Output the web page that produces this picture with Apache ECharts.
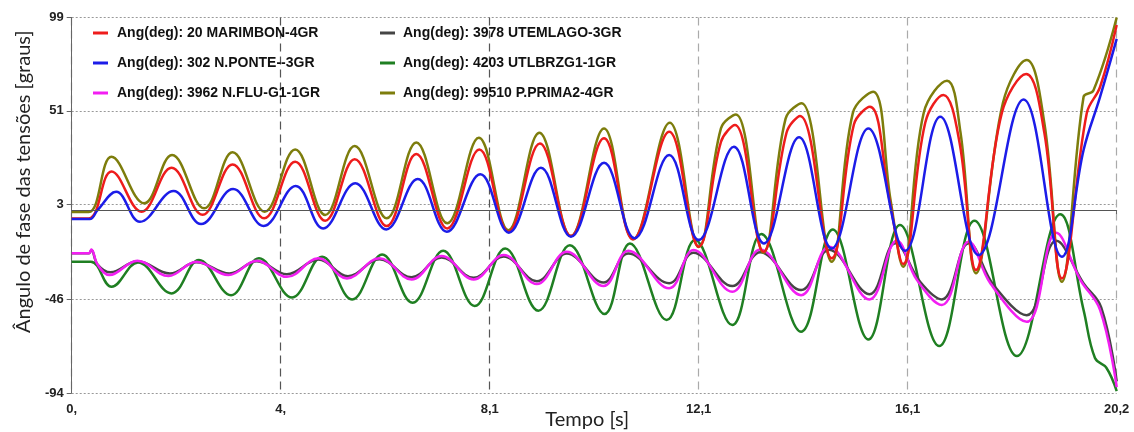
<!DOCTYPE html>
<html><head><meta charset="utf-8">
<script src="https://cdn.jsdelivr.net/npm/echarts@6/dist/echarts.min.js"></script>
<style>html,body{margin:0;padding:0;background:#fff}#c{width:1134px;height:432px}</style>
</head><body><div id="c"></div>
<script>
const names = [
  'Ang(deg): 20 MARIMBON-4GR',
  'Ang(deg): 302 N.PONTE--3GR',
  'Ang(deg): 3962 N.FLU-G1-1GR',
  'Ang(deg): 3978 UTEMLAGO-3GR',
  'Ang(deg): 4203 UTLBRZG1-1GR',
  'Ang(deg): 99510 P.PRIMA2-4GR'
];
const xTickValues = [0, 4.04, 8.08, 12.12, 16.16, 20.2];
const xTickLabels = ['0,', '4,', '8,1', '12,1', '16,1', '20,2'];
const yTickValues = [-94, -46, 3, 51, 99];
const yTickLabels = ['-94', '-46', '3', '51', '99'];

const marimbon = [[0,-4.3],[0.33,-4.3],[0.77,19.9],[1.35,-0.8],[1.93,21.8],[2.53,-2.4],[3.11,23.5],[3.72,-4.2],[4.32,24.9],[4.90,-5.5],[5.47,26.2],[6.09,-8.2],[6.66,28.8],[7.26,-9.4],[7.88,31.2],[8.44,-11.1],[9.05,34.3],[9.65,-13.3],[10.29,36.9],[10.85,-15.0],[11.55,40.3],[12.12,-18.8],[12.55,35],[12.82,43.7],[13.37,-21.4],[13.82,40],[14.08,48.4],[14.69,-24.8],[15.12,44],[15.43,53.1],[15.82,3.5],[16.07,-27.7],[16.50,45],[16.85,59.2],[17.16,35],[17.48,-30.8],[17.98,50],[18.45,70.0],[18.8,40],[19.14,-35.1],[19.62,49.7],[19.88,63.4],[20.2,95.1]];
const nponte = [[0,-4.6],[0.35,-4.6],[0.5,0],[0.86,9.4],[1.32,-6.0],[1.97,9.8],[2.50,-7.2],[3.12,10.8],[3.71,-8.2],[4.33,12.4],[4.86,-9.4],[5.48,13.8],[6.08,-9.9],[6.69,16.0],[7.25,-11.1],[7.90,18.4],[8.45,-11.6],[9.07,21.8],[9.65,-13.7],[10.29,24.3],[10.88,-14.5],[11.55,28.3],[12.12,-15.4],[12.80,32.6],[13.38,-17.1],[14.06,37.4],[14.69,-19.7],[15.40,42.0],[16.11,-20.9],[16.79,48.0],[17.53,-23.1],[18.4,56.9],[19.14,-24.0],[19.56,30.9],[19.88,58.3],[20.2,88]];
const nflu = [[0,-22.2],[0.33,-22.2],[0.38,-20.2],[0.5,-28],[0.73,-33.4],[1.27,-26.0],[1.87,-33.9],[2.41,-26.5],[3.03,-33.4],[3.58,-26.0],[4.16,-34.3],[4.77,-24.8],[5.32,-35.1],[5.95,-24.8],[6.57,-35.6],[7.15,-23.6],[7.77,-35.6],[8.35,-23.1],[8.99,-38.0],[9.57,-21.4],[10.28,-39.0],[10.76,-20.9],[11.55,-40.2],[12.02,-20.5],[12.77,-42.0],[13.31,-20.2],[14.10,-43.7],[14.64,-18.8],[15.42,-45.9],[15.95,-15.8],[16.34,-36.0],[16.82,-48.8],[17.34,-16.3],[17.76,-37.7],[18.46,-57.4],[19.03,-11.6],[19.50,-36.0],[19.88,-51.4],[20.2,-91]];
const utemlago = [[0,-22.2],[0.33,-22.2],[0.38,-20.5],[0.5,-28],[0.75,-32.0],[1.27,-26.3],[1.90,-32.6],[2.41,-26.8],[3.05,-32.6],[3.58,-26.3],[4.16,-33.0],[4.77,-25.4],[5.34,-34.0],[5.95,-25.3],[6.57,-34.5],[7.15,-24.3],[7.77,-34.8],[8.35,-23.8],[8.99,-36.5],[9.57,-22.3],[10.28,-37.2],[10.76,-22.3],[11.55,-37.6],[12.02,-21.9],[12.77,-39.0],[13.31,-21.6],[14.10,-41.1],[14.64,-20.4],[15.42,-43.2],[15.92,-17.0],[16.40,-36.8],[16.82,-45.9],[17.34,-17.0],[17.82,-38.5],[18.46,-54.0],[19.03,-15.8],[19.56,-37.7],[19.9,-50],[20.2,-88]];
const utlbrzg1 = [[0,-26.5],[0.37,-26.5],[0.77,-39.4],[1.28,-26.9],[1.93,-42.8],[2.46,-25.7],[3.08,-43.7],[3.62,-24.8],[4.26,-44.9],[4.84,-24.0],[5.42,-45.9],[6.00,-22.8],[6.59,-47.6],[7.18,-20.9],[7.79,-49.3],[8.38,-19.7],[9.02,-51.7],[9.63,-18.0],[10.30,-53.4],[10.79,-17.1],[11.50,-56.5],[12.05,-15.4],[12.77,-59.1],[13.33,-12.3],[14.10,-62.5],[14.71,-9.9],[15.40,-66.5],[16.01,-7.7],[16.77,-69.9],[17.45,-5.5],[18.27,-75.0],[19.11,-2.1],[19.56,-51.4],[19.78,-76],[20.0,-81],[20.2,-93]];
const pprima2 = [[0,-1.0],[0.33,-1.0],[0.77,27.4],[1.40,3.5],[1.94,28.3],[2.56,0.9],[3.11,29.7],[3.73,-0.8],[4.32,31.2],[4.90,-2.5],[5.47,32.9],[6.09,-4.2],[6.66,34.8],[7.26,-6.8],[7.87,37.2],[8.44,-10.3],[9.04,39.8],[9.65,-13.3],[10.29,42.0],[10.85,-15.0],[11.56,44.9],[12.12,-19.0],[12.55,42],[12.84,49.2],[13.37,-21.9],[13.80,47],[14.11,54.9],[14.69,-26.5],[15.1,50],[15.49,60.9],[15.83,5],[16.07,-29.1],[16.47,50],[16.92,66.5],[17.18,40],[17.48,-32.5],[18.0,55],[18.46,77.1],[18.8,45],[19.14,-36.8],[19.56,58.3],[19.75,61.5],[20.2,99]];

const colors = {
  marimbon: '#ee1c1c', nponte: '#1c1ce8', nflu: '#f21ef2',
  utemlago: '#454545', utlbrzg1: '#1f7f22', pprima2: '#7d7d0c'
};

function lineSeries(name, data, color, extra) {
  return Object.assign({
    name: name, type: 'line', data: data, smooth: 0.4,
    showSymbol: false, symbol: 'none', clip: true,
    lineStyle: { color: color, width: 2.5 },
    itemStyle: { color: color },
    emphasis: { disabled: true }
  }, extra || {});
}

const chart = echarts.init(document.getElementById('c'), null, { renderer: 'canvas' });
const legendText = { fontFamily: 'Liberation Sans, Arial, sans-serif', fontWeight: 'bold', fontSize: 14, color: '#111', lineHeight: 16 };
chart.setOption({
  animation: false,
  backgroundColor: '#fff',
  grid: { left: 71.7, right: 17.3, top: 17.5, bottom: 39, containLabel: false, outerBoundsMode: 'none' },
  legend: [
    { data: names.slice(0, 3), orient: 'vertical', left: 88, top: 20, itemGap: 14, icon: 'rect', itemWidth: 15, itemHeight: 3,
      textStyle: Object.assign({ padding: [0, 0, 0, 4] }, legendText), selectedMode: false },
    { data: names.slice(3, 6), orient: 'vertical', left: 375, top: 20, itemGap: 14, icon: 'rect', itemWidth: 15, itemHeight: 3,
      textStyle: Object.assign({ padding: [0, 0, 0, 3] }, legendText), selectedMode: false }
  ],
  xAxis: {
    type: 'value', min: 0, max: 20.2, interval: 4.04,
    name: 'Tempo [s]', nameLocation: 'middle', nameGap: 17, nameMoveOverlap: false,
    nameTextStyle: { fontFamily: 'Lato, sans-serif', fontSize: 20, color: '#222', padding: [0, 14, 0, 0] },
    axisLine: { show: true, lineStyle: { color: '#666', width: 1 } },
    axisTick: { show: true, length: 4, lineStyle: { color: '#666' }, customValues: xTickValues },
    axisLabel: {
      customValues: xTickValues, margin: 10,
      fontFamily: 'Liberation Sans, Arial, sans-serif', fontWeight: 'bold', fontSize: 13, color: '#222',
      formatter: function (v) {
        let best = 0;
        for (let i = 0; i < xTickValues.length; i++) if (Math.abs(xTickValues[i] - v) < Math.abs(xTickValues[best] - v)) best = i;
        return xTickLabels[best];
      }
    },
    splitLine: { show: true, lineStyle: { color: ['#888', '#555', '#555', '#aaa', '#aaa', '#aaa'], type: [8, 5], width: 1.2 } }
  },
  yAxis: {
    type: 'value', min: -94, max: 99,
    name: 'Ângulo de fase das tensões [graus]', nameLocation: 'middle', nameGap: 38, nameMoveOverlap: false,
    nameTextStyle: { fontFamily: 'Lato, sans-serif', fontSize: 20, color: '#222', padding: [0, 0, 0, 47] },
    axisLine: { show: true, lineStyle: { color: '#666', width: 1 } },
    axisTick: { show: true, length: 5, lineStyle: { color: '#666' }, customValues: yTickValues },
    axisLabel: {
      customValues: yTickValues, margin: 8,
      fontFamily: 'Liberation Sans, Arial, sans-serif', fontWeight: 'bold', fontSize: 13, color: '#222',
      formatter: function (v) {
        let best = 0;
        for (let i = 0; i < yTickValues.length; i++) if (Math.abs(yTickValues[i] - v) < Math.abs(yTickValues[best] - v)) best = i;
        return yTickLabels[best];
      }
    },
    splitLine: { show: true, lineStyle: { color: '#999', type: [2, 2], width: 1 } }
  },
  series: [
    lineSeries(names[4], utlbrzg1, colors.utlbrzg1, {
      markLine: { silent: true, symbol: 'none', label: { show: false }, animation: false,
        lineStyle: { color: '#555', type: 'solid', width: 1 }, data: [{ yAxis: 0 }] }
    }),
    lineSeries(names[3], utemlago, colors.utemlago),
    lineSeries(names[2], nflu, colors.nflu),
    lineSeries(names[5], pprima2, colors.pprima2),
    lineSeries(names[0], marimbon, colors.marimbon),
    lineSeries(names[1], nponte, colors.nponte)
  ]
});
</script>
</body></html>
